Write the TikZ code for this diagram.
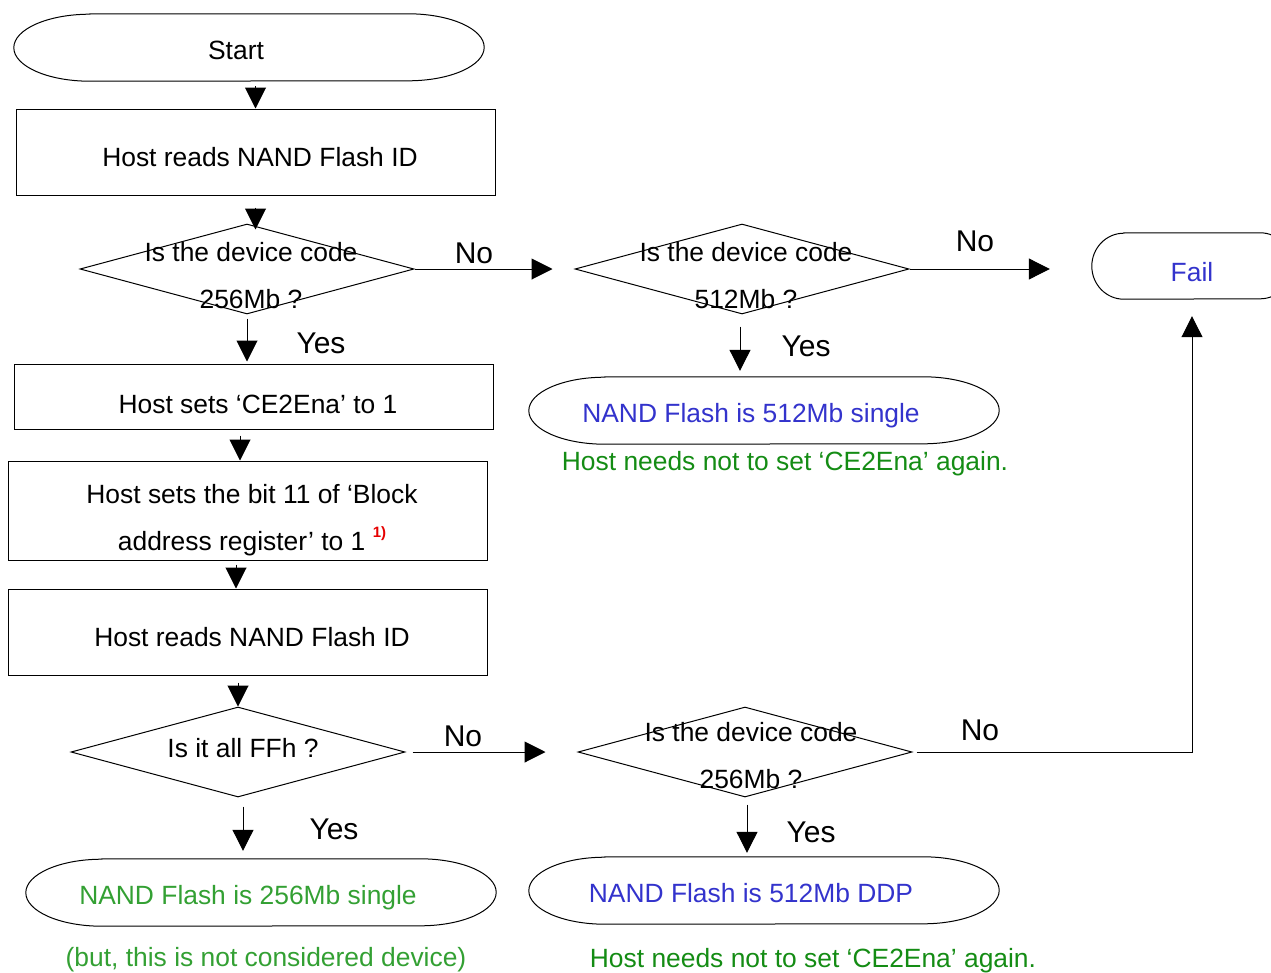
\documentclass[tikz,border=0pt]{standalone}
\usepackage{fontspec}
\setmainfont{Liberation Sans}
\usetikzlibrary{shapes.geometric,arrows.meta,calc}
\definecolor{tblue}{RGB}{51,51,204}
\definecolor{tgreen}{RGB}{20,140,20}
\definecolor{lgreen}{RGB}{51,160,51}
\definecolor{tred}{RGB}{230,0,0}
% outline of a terminator: #1 node name, #2 end x-radius, #3 end y-radius
\newcommand\termoutline[3]{%
  \draw[line] ([xshift=#2]#1.north west) -- ([xshift=-#2]#1.north east)
    arc[start angle=90,end angle=-90,x radius=#2,y radius=#3]
    -- ([xshift=#2]#1.south west)
    arc[start angle=270,end angle=90,x radius=#2,y radius=#3] -- cycle;}
\begin{document}
\begin{tikzpicture}[x=1pt,y=1pt,
  font=\fontsize{26.4}{47}\selectfont,
  line/.style={draw=black, line width=1pt},
  arr/.style={line, -{Triangle[width=21pt,length=21pt]}},
  box/.style={line, rectangle, inner sep=0pt},
  dia/.style={line, diamond, inner sep=0pt},
  term/.style={rectangle, inner sep=0pt, minimum width=470, minimum height=67},
  txt/.style={inner sep=0pt, align=center},
  lab/.style={inner sep=0pt, font=\fontsize{30}{36}\selectfont}]
\useasboundingbox (0,0) rectangle (1271,-972);

% ---------- terminators ----------
\node[term] (start) at (249,-47.5) {};
\termoutline{start}{76}{33.5}
\node[txt] (startt) at (236,-50) {Start};

\node[term, minimum width=200, minimum height=66] (fail) at (1192,-266) {};
\termoutline{fail}{32}{33}
\node[txt, text=tblue] (failt) at (1192,-272) {Fail};

\node[term] (s512) at (764,-410.5) {};
\termoutline{s512}{76}{33.5}
\node[txt, text=tblue] (s512t) at (751,-416) {NAND Flash is 512Mb single};
\node[txt, text=tgreen] (n1) at (785,-464) {Host needs not to set ‘CE2Ena’ again.};

\node[term] (s256) at (261,-892.5) {};
\termoutline{s256}{76}{33.5}
\node[txt, text=lgreen] (s256t) at (248,-898) {NAND Flash is 256Mb single};
\node[txt, text=lgreen] (n2) at (266,-960) {(but, this is not considered device)};

\node[term] (sddp) at (764,-890.5) {};
\termoutline{sddp}{76}{33.5}
\node[txt, text=tblue] (sddpt) at (751,-893) {NAND Flash is 512Mb DDP};
\node[txt, text=tgreen] (n3) at (813,-961) {Host needs not to set ‘CE2Ena’ again.};

% ---------- process boxes ----------
\node[box, minimum width=479, minimum height=86] (b1) at (255.5,-152) {};
\node[txt] (b1t) at (260,-157) {Host reads NAND Flash ID};

\node[box, minimum width=479, minimum height=65] (b2) at (253.5,-396.5) {};
\node[txt] (b2t) at (258,-404) {Host sets ‘CE2Ena’ to 1};

\node[box, minimum width=479, minimum height=99] (b3) at (247.5,-510.5) {};
\node[txt] (b3t) at (252,-520) {Host sets the bit 11 of ‘Block\\address register’ to 1 {\color{tred}\fontsize{15}{15}\selectfont\bfseries\raisebox{13pt}{1)}}};

\node[box, minimum width=479, minimum height=86] (b4) at (247.5,-632) {};
\node[txt] (b4t) at (252,-637) {Host reads NAND Flash ID};

% ---------- decisions ----------
\node[dia, minimum width=334, minimum height=90] (d1) at (247,-269) {};
\node[txt] (d1t) at (251,-275.5) {Is the device code\\256Mb ?};

\node[dia, minimum width=334, minimum height=90] (d2) at (742,-269) {};
\node[txt] (d2t) at (746,-275.5) {Is the device code\\512Mb ?};

\node[dia, minimum width=334, minimum height=90] (d3) at (238,-752) {};
\node[txt] (d3t) at (243,-748) {Is it all FFh ?};

\node[dia, minimum width=334, minimum height=90] (d4) at (745,-752) {};
\node[txt] (d4t) at (751,-755.5) {Is the device code\\256Mb ?};

% ---------- helper coordinates ----------
\coordinate (c2) at ([xshift=-7.5]b3.north);
\coordinate (c3) at ([xshift=-11.5]b4.north);

% ---------- connectors ----------
\draw[arr, shorten <=5pt] (start.south -| b1.north) -- (b1.north);
\draw[arr, shorten <=12pt, shorten >=-6pt] (b1.south) -- (b1.south |- d1.north);
\draw[arr, shorten <=4pt, shorten >=2pt] (d1.south) -- (d1.south |- b2.north);
\draw[arr, shorten >=22pt] (d1.east) -- (d2.west);
\draw[arr, shorten >=42pt] (d2.east) -- (d2.east -| fail.west);
\draw[arr, shorten <=12pt, shorten >=6pt] ([xshift=-2]d2.south) -- ([xshift=-2]d2.south |- s512.north);
\draw[arr, shorten <=6pt] (c2 |- b2.south) -- (c2);
\draw[arr, shorten <=4pt] (c3 |- b3.south) -- (c3);
\draw[arr, shorten <=7pt] (d3.north |- b4.south) -- (d3.north);
\draw[arr, shorten <=9pt, shorten >=8pt] ([xshift=5]d3.south) -- ([xshift=5]d3.south |- s256.north);
\draw[arr, shorten <=7pt, shorten >=32pt] (d3.east) -- (d4.west);
\draw[arr, shorten <=7pt, shorten >=4pt] ([xshift=2]d4.south) -- ([xshift=2]d4.south |- sddp.north);
\draw[arr, shorten <=4pt, shorten >=17pt] (d4.east) -| (fail.south);

% ---------- branch labels ----------
\node[lab] (no1) at (474,-253) {No};
\node[lab] (no2) at (975,-241) {No};
\node[lab] (no3) at (463,-736) {No};
\node[lab] (no4) at (980,-730) {No};
\node[lab] (y1) at (321,-343) {Yes};
\node[lab] (y2) at (806,-346) {Yes};
\node[lab] (y3) at (334,-829) {Yes};
\node[lab] (y4) at (811,-832) {Yes};
\end{tikzpicture}
\end{document}
